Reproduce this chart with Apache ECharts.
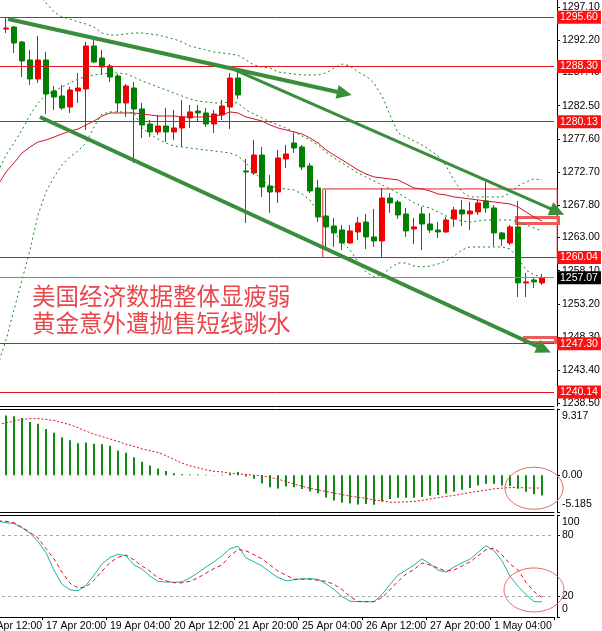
<!DOCTYPE html>
<html><head><meta charset="utf-8">
<script src="https://cdn.jsdelivr.net/npm/echarts@6/dist/echarts.min.js"></script>
<style>html,body{margin:0;padding:0;background:#fff}#c{width:602px;height:631px}</style>
</head><body><div id="c"></div>
<script>
// ---------- categories (H4 bars) ----------
const categories = [
'14 Apr 12:00','14 Apr 16:00','14 Apr 20:00',
'17 Apr 00:00','17 Apr 04:00','17 Apr 08:00','17 Apr 12:00','17 Apr 16:00','17 Apr 20:00',
'18 Apr 00:00','18 Apr 04:00','18 Apr 08:00','18 Apr 12:00','18 Apr 16:00','18 Apr 20:00',
'19 Apr 00:00','19 Apr 04:00','19 Apr 08:00','19 Apr 12:00','19 Apr 16:00','19 Apr 20:00',
'20 Apr 00:00','20 Apr 04:00','20 Apr 08:00','20 Apr 12:00','20 Apr 16:00','20 Apr 20:00',
'21 Apr 00:00','21 Apr 04:00','21 Apr 08:00','21 Apr 12:00','21 Apr 16:00','21 Apr 20:00',
'24 Apr 00:00','24 Apr 04:00','24 Apr 08:00','24 Apr 12:00','24 Apr 16:00','24 Apr 20:00',
'25 Apr 00:00','25 Apr 04:00','25 Apr 08:00','25 Apr 12:00','25 Apr 16:00','25 Apr 20:00',
'26 Apr 00:00','26 Apr 04:00','26 Apr 08:00','26 Apr 12:00','26 Apr 16:00','26 Apr 20:00',
'27 Apr 00:00','27 Apr 04:00','27 Apr 08:00','27 Apr 12:00','27 Apr 16:00','27 Apr 20:00',
'28 Apr 00:00','28 Apr 04:00','28 Apr 08:00','28 Apr 12:00','28 Apr 16:00','28 Apr 20:00',
'1 May 00:00','1 May 04:00','1 May 08:00','1 May 12:00','1 May 16:00','1 May 20:00',
'2 May 00:00','2 May 04:00','2 May 08:00'];

// ---------- candles (first bar = 17 Apr 00:00) ----------
const candleOpen = [1293.85,1294.15,1291.93,1289.27,1286.46,1289.27,1284.68,1283.94,1282.31,1284.68,
1284.98,1291.34,1289.56,1288.38,1286.90,1282.91,1285.12,1282.02,1279.80,1278.62,
1279.50,1278.62,1279.21,1280.69,1281.72,1281.43,1279.80,1281.13,1282.31,1286.60,
1272.85,1272.55,1275.21,1270.63,1269.74,1274.62,1276.99,1276.40,1273.59,1270.33,
1266.19,1264.71,1264.12,1262.20,1263.83,1265.30,1263.09,1262.50,1268.85,1268.26,
1266.49,1264.27,1266.49,1265.01,1264.12,1263.83,1265.75,1267.08,1266.49,1266.78,
1268.41,1267.38,1263.68,1262.20,1264.57,1256.29,1256.73,1256.29];
const candleClose = [1294.00,1291.78,1289.12,1286.46,1289.27,1284.24,1283.79,1282.17,1284.83,1285.12,
1291.34,1288.97,1288.23,1286.75,1282.91,1285.42,1282.02,1279.65,1278.62,1279.50,
1278.62,1279.21,1280.84,1281.58,1281.43,1279.80,1281.28,1282.46,1286.60,1284.09,
1272.70,1275.21,1270.48,1269.74,1274.77,1275.36,1276.25,1273.44,1269.89,1266.05,
1264.57,1263.68,1262.20,1263.98,1265.16,1263.09,1262.50,1268.85,1268.12,1266.34,
1263.98,1264.57,1265.01,1264.12,1263.83,1265.60,1267.08,1266.49,1266.93,1268.12,
1267.38,1263.68,1262.79,1264.57,1256.29,1256.44,1256.44,1257.07];
const candleLow = [1293.26,1290.30,1286.75,1285.57,1285.86,1281.28,1281.87,1281.87,1281.43,1282.91,
1278.91,1288.82,1287.05,1286.01,1281.58,1280.84,1274.03,1277.73,1277.88,1278.17,
1277.14,1277.43,1276.40,1279.21,1280.10,1279.36,1278.47,1280.39,1279.06,1283.50,
1265.16,1272.26,1269.00,1266.64,1268.12,1273.29,1275.51,1273.00,1269.59,1265.30,
1261.46,1261.61,1261.16,1262.05,1262.64,1261.31,1261.61,1260.13,1266.64,1265.75,
1263.09,1262.05,1261.16,1263.68,1262.94,1263.68,1264.57,1264.71,1264.12,1266.34,
1266.64,1261.76,1261.76,1261.90,1254.21,1254.21,1255.54,1255.99];
const candleHigh = [1295.48,1294.30,1292.08,1290.74,1292.82,1290.45,1285.42,1285.57,1285.27,1287.34,
1291.93,1292.37,1290.74,1288.67,1287.20,1285.72,1286.01,1282.91,1280.39,1281.13,
1282.17,1281.87,1283.35,1282.61,1282.61,1282.17,1281.87,1283.35,1287.34,1287.93,
1274.62,1277.43,1276.40,1272.26,1275.95,1276.69,1278.47,1276.69,1274.03,1271.52,
1270.04,1265.90,1264.86,1264.86,1266.05,1266.49,1267.23,1270.33,1269.59,1268.56,
1267.38,1265.90,1267.53,1266.64,1265.30,1266.05,1267.53,1268.56,1268.26,1268.56,
1271.22,1267.82,1263.83,1264.86,1268.41,1257.76,1257.02,1257.61];

// ---------- overlays (first value = 14 Apr 20:00) ----------
const maRed = [1270.78,1272.70,1274.04,1275.51,1276.39,1277.13,1277.43,1277.87,1278.32,1278.76,1279.06,
1279.65,1280.24,1280.98,1281.43,1281.43,1281.43,1281.43,1281.28,1281.13,1280.98,
1280.98,1280.98,1280.84,1280.84,1280.84,1280.84,1280.98,1281.13,1281.58,1281.43,
1280.84,1280.54,1280.24,1279.65,1279.21,1278.91,1278.62,1278.32,1277.73,1276.99,
1275.95,1275.21,1274.48,1273.74,1273.00,1272.41,1271.96,1271.82,1271.67,1271.52,
1270.93,1270.33,1270.19,1269.89,1269.45,1269.30,1269.00,1268.86,1268.71,1268.56,
1268.41,1268.26,1268.12,1267.97,1267.53,1266.79,1266.04,1265.45];
const bandMid = [1272.70,1275.21,1276.99,1278.91,1281.13,1282.91,1284.09,1284.68,1285.27,1285.87,1286.46,
1286.75,1287.05,1287.20,1287.34,1287.34,1287.20,1286.75,1286.16,1285.72,1285.27,
1284.83,1284.39,1283.94,1283.50,1283.20,1283.05,1282.91,1282.91,1283.05,1282.91,
1281.87,1281.28,1280.69,1280.09,1279.65,1279.21,1278.62,1278.02,1277.43,1276.69,
1275.65,1274.77,1274.03,1273.30,1272.56,1271.96,1271.37,1270.78,1270.19,1269.60,
1268.86,1268.12,1267.67,1267.38,1266.79,1266.19,1265.75,1265.45,1265.30,1265.45,
1265.60,1265.60,1265.60,1265.60,1265.30,1264.86,1264.42,1263.97];
const bandUpper = [1306.30,1304.80,1303.32,1301.84,1300.36,1299.03,1297.70,1296.37,1295.63,1295.33,1294.89,
1294.59,1294.15,1293.26,1292.96,1292.96,1293.11,1293.26,1293.26,1293.11,1292.96,
1292.67,1292.37,1291.93,1291.33,1291.04,1290.74,1290.45,1290.30,1290.15,1290.00,
1289.27,1288.53,1288.23,1288.08,1287.49,1287.34,1287.20,1287.05,1287.05,1287.05,
1287.34,1288.08,1288.67,1288.38,1287.49,1286.90,1285.86,1283.94,1281.13,1278.47,
1277.88,1277.29,1276.69,1275.95,1275.07,1273.59,1271.52,1269.74,1269.00,1269.00,
1269.00,1269.00,1269.00,1269.60,1270.63,1271.22,1271.67,1271.52];
const bandLower = [1244.15,1247.85,1252.29,1256.73,1261.16,1266.34,1269.74,1271.96,1273.74,1274.92,1275.81,
1276.99,1279.36,1281.28,1281.58,1281.58,1281.58,1281.43,1279.21,1278.32,1277.58,
1276.99,1276.54,1276.40,1276.25,1276.10,1275.95,1275.81,1275.66,1275.51,1275.07,
1274.03,1272.70,1271.52,1270.63,1270.33,1270.19,1270.04,1269.45,1268.56,1266.64,
1265.30,1263.82,1262.34,1261.16,1259.39,1257.91,1257.17,1257.47,1258.50,1259.24,
1259.24,1258.79,1258.65,1258.79,1259.09,1259.53,1260.27,1261.16,1261.61,1261.61,
1261.61,1261.61,1261.61,1261.31,1259.98,1258.21,1257.47,1257.17];

// ---------- MACD (histogram from 17 Apr 00:00, signal from 14 Apr 20:00) ----------
const macdHist = [8.4,8.3,8.05,7.5,7.25,6.5,5.97,5.34,4.9,4.5,
4.6,4.43,4.34,4.16,3.44,3.17,2.53,1.9,1.36,0.95,
0.6,0.27,0.14,0.1,0.1,0.05,0.02,0.05,0.25,0.45,
-0.2,-0.5,-1.16,-1.7,-1.86,-1.58,-1.7,-1.95,-2.3,-2.56,
-3.16,-3.58,-3.9,-4.0,-4.14,-4.07,-4.16,-3.71,-3.35,-3.17,
-3.17,-3.17,-3.08,-2.9,-2.8,-2.58,-2.35,-2.04,-1.81,-1.45,
-1.22,-1.22,-1.45,-1.54,-1.9,-2.35,-2.67,-2.85];
const macdSignal = [7.15,7.35,7.6,7.85,7.95,7.96,7.85,7.7,7.4,7.1,6.7,
6.2,5.75,5.45,5.1,4.75,4.35,4.05,3.7,3.45,3.2,
2.75,2.2,1.7,1.3,1.04,0.75,0.55,0.45,0.3,0.2,
0.1,0.0,-0.1,-0.3,-0.56,-0.9,-1.26,-1.55,-1.86,-2.05,
-2.3,-2.5,-2.74,-2.95,-3.1,-3.25,-3.5,-3.6,-3.8,-3.8,
-3.75,-3.71,-3.55,-3.35,-3.17,-3.0,-2.85,-2.65,-2.45,-2.28,
-2.1,-1.92,-1.82,-1.75,-1.73,-1.8,-1.81,-1.81];

// ---------- Stochastic (from 14 Apr 20:00) ----------
const stochK = [94,92.5,91.5,87.5,82,74,63,46,32,26.7,25.7,
31,41,52,58.4,61.5,60,51,47,40,35,
34.3,34,34.5,38.4,43.4,49,54,60,67,69.5,
58,54,50,44,38.7,35.5,36.5,37.5,37.5,37,
32.5,27,20,15.5,15,15,15,22,32,41,
46,51,57,52,46,44,49,53,56.7,63.4,
70,65,55,40,30,22,15,15];
const stochD = [94.3,93.8,92.5,88,83,77.5,67,57,44,33,28.5,
29.5,36,45,53.4,58.5,60.7,56,50,45,38.4,
35.5,33.6,33.5,35,38.4,43,47.5,51,60,66,
65,61,57,51,45,41,37,37,37,36,
35,32,27,20,15.3,15,15,19,26.7,35,
42,46.5,53,51,48,45,46,50,54,60,
66,67.5,61,52,46,34,25,19];

// ---------- axis tick labels & levels ----------
const priceTicks = [1297.10,1292.20,1287.40,1282.50,1277.60,1272.70,1267.80,1263.00,1258.10,1253.20,1248.30,1243.40,1238.50];
const macdTicks = [9.317, 0, -5.185];
const macdTickText = ['9.317','0.00','-5.185'];
const stochTicks = [100, 80, 20, 0];
const levelLines = [1295.60, 1288.30, 1280.13, 1260.04, 1247.30, 1240.14];
const lastPrice = 1257.07;
const stochLevels = [80, 20];

// annotations in data space: [catIndexFrom, priceFrom, catIndexTo, priceTo]
const trendArrows = [[3.25,1295.33,44.75,1284.46],[30.75,1288.23,71.4,1267.08],[7.25,1280.84,69.75,1246.73]];
const arrowWidths = [4,3,4];
const rangeBox = [42.6,1270.19,71.9,1260.04];
const targetBoxes = [[66.8,1265.97,72.06,1265.08],[67.8,1248.22,71.7,1247.48]];
const noteLines = ['美国经济数据整体显疲弱','黄金意外遭抛售短线跳水'];

const FIRST_BAR = 3, FIRST_LINE = 2;
function place(values, start){ const out = categories.map(()=>null); values.forEach((v,j)=>{ out[start+j]=v; }); return out; }
const candleData = categories.map((c,k)=>{ const j=k-FIRST_BAR; return (j>=0 && j<candleOpen.length) ? [candleOpen[j],candleClose[j],candleLow[j],candleHigh[j]] : '-'; });

const FONT = 'Liberation Sans';
const PMIN = 1238.08, PMAX = 1298.14;
const GL = -22, GW = 576;
const ARROW = '#3a8d3a';
const lblBase = {color:'#000', fontSize:10.5, fontFamily:FONT, margin:5};
const RED = '#e3141c', GREEN = '#138a13';
const edgeRich = {top:{padding:[15,0,0,0], color:'#000', fontSize:10.5, fontFamily:FONT},
                  bot:{padding:[0,0,15,0], color:'#000', fontSize:10.5, fontFamily:FONT}};

function catAxis(grid, opts){ return Object.assign({type:'category', gridIndex:grid, data:categories, boundaryGap:true,
  axisLine:{show:true, onZero:false, lineStyle:{color:'#000', width:1}}, axisTick:{show:false}, axisLabel:{show:false}, splitLine:{show:false}}, opts||{}); }

const chart = echarts.init(document.getElementById('c'), null, {renderer:'canvas'});
const option = {
  animation:false, backgroundColor:'#fff',
  grid:[
    {left:GL, top:0, width:GW, height:406, outerBoundsMode:'none'},
    {left:GL, top:409, width:GW, height:103, outerBoundsMode:'none'},
    {left:GL, top:515, width:GW, height:102, outerBoundsMode:'none'},
    {left:GL, top:0, width:GW+80, height:406, outerBoundsMode:'none'}
  ],
  xAxis:[
    catAxis(0),
    catAxis(1),
    catAxis(1,{position:'top'}),
    catAxis(2,{axisLabel:{show:true, interval:7, align:'left', color:'#000', fontSize:10.5, fontFamily:FONT, margin:4},
               axisTick:{show:true, interval:7, length:3, lineStyle:{color:'#000'}}}),
    catAxis(2,{position:'top'}),
    {type:'value', gridIndex:3, min:-0.5, max:categories.length-0.5+10, show:false}
  ],
  yAxis:[
    {type:'value', gridIndex:0, min:PMIN, max:PMAX, position:'right', offset:3, scale:true,
     axisLine:{show:true, lineStyle:{color:'#000'}}, axisTick:{show:true, length:3, customValues:priceTicks, lineStyle:{color:'#000'}},
     axisLabel:Object.assign({customValues:priceTicks, formatter:v=>v.toFixed(2)}, lblBase), splitLine:{show:false}},
    {type:'value', gridIndex:1, min:-5.185, max:9.317, position:'right', offset:3,
     axisLine:{show:true, lineStyle:{color:'#000'}}, axisTick:{show:true, length:3, customValues:macdTicks, lineStyle:{color:'#000'}},
     axisLabel:Object.assign({customValues:macdTicks, rich:edgeRich,
       formatter:v=>{ const i=macdTicks.findIndex(t=>Math.abs(t-v)<1e-6); if(i<0) return '';
         if(i===0) return '{top|'+macdTickText[i]+'}'; if(i===macdTicks.length-1) return '{bot|'+macdTickText[i]+'}'; return macdTickText[i]; }}, lblBase), splitLine:{show:false}},
    {type:'value', gridIndex:2, min:0, max:100, position:'right', offset:3,
     axisLine:{show:true, lineStyle:{color:'#000'}}, axisTick:{show:true, length:3, customValues:stochTicks, lineStyle:{color:'#000'}},
     axisLabel:Object.assign({customValues:stochTicks, rich:edgeRich,
       formatter:v=>{ if(v===100) return '{top|100}'; if(v===0) return '{bot|0}'; return String(v); }}, lblBase), splitLine:{show:false}},
    {type:'value', gridIndex:3, min:PMIN, max:PMAX, show:false}
  ],
  series:[
    {type:'line', name:'ma', xAxisIndex:0, yAxisIndex:0, data:place(maRed,FIRST_LINE), showSymbol:false, silent:true,
     lineStyle:{color:'#d0142c', width:1}},
    {type:'line', name:'bbUp', xAxisIndex:0, yAxisIndex:0, data:place(bandUpper,FIRST_LINE), showSymbol:false, silent:true,
     lineStyle:{color:GREEN, width:1, type:[2,3]}},
    {type:'line', name:'bbMid', xAxisIndex:0, yAxisIndex:0, data:place(bandMid,FIRST_LINE), showSymbol:false, silent:true,
     lineStyle:{color:GREEN, width:1, type:[2,3]}},
    {type:'line', name:'bbLow', xAxisIndex:0, yAxisIndex:0, data:place(bandLower,FIRST_LINE), showSymbol:false, silent:true,
     lineStyle:{color:GREEN, width:1, type:[2,3]}},
    {type:'candlestick', xAxisIndex:0, yAxisIndex:0, data:candleData, barWidth:5, silent:true,
     itemStyle:{color:'#f00000', color0:'#008000', borderColor:'#f00000', borderColor0:'#008000', borderWidth:1},
     markLine:{silent:true, symbol:['none','none'], animation:false,
       data: levelLines.map(v=>({yAxis:v, lineStyle:{color:RED, width:1, type:'solid'},
           label:{show:true, position:'end', distance:3, formatter:p=>p.value.toFixed(2), color:'#fff', backgroundColor:'#ff1010',
                  padding:[1,3,0,3], fontSize:10.5, fontFamily:FONT, lineHeight:12}}))
         .concat([{yAxis:lastPrice, lineStyle:{color:'#8a8a8a', width:1, type:'solid'},
           label:{show:true, position:'end', distance:3, formatter:p=>p.value.toFixed(2), color:'#fff', backgroundColor:'#000',
                  padding:[1,3,0,3], fontSize:10.5, fontFamily:FONT, lineHeight:12}}])}},
    {type:'line', name:'annot', xAxisIndex:5, yAxisIndex:3, data:[], clip:false, silent:true,
     markArea:{silent:true, data:[
       [{coord:[rangeBox[0],rangeBox[1]], itemStyle:{color:'rgba(0,0,0,0)', borderColor:'#e0202a', borderWidth:1}},{coord:[rangeBox[2],rangeBox[3]]}]
     ].concat(targetBoxes.map(b=>[{coord:[b[0],b[1]], itemStyle:{color:'rgba(0,0,0,0)', borderColor:'#ef5a5a', borderWidth:3}},{coord:[b[2],b[3]]}]))},
     markLine:{silent:true, symbol:['none','none'], animation:false,
       lineStyle:{color:ARROW, width:4, type:'solid'}, label:{show:false},
       data: trendArrows.map((a,i)=>[{coord:[a[0],a[1]], lineStyle:{color:ARROW, width:arrowWidths[i], type:'solid'}},{coord:[a[2],a[3]]}])}},
    {type:'bar', name:'macd', xAxisIndex:1, yAxisIndex:1, data:place(macdHist,FIRST_BAR), barWidth:2, silent:true,
     itemStyle:{color:'#138a13'}},
    {type:'line', name:'signal', xAxisIndex:1, yAxisIndex:1, data:place(macdSignal,FIRST_LINE), showSymbol:false, silent:true,
     lineStyle:{color:'#e01020', width:1, type:[2,2]}},
    {type:'line', name:'K', xAxisIndex:3, yAxisIndex:2, data:place(stochK,FIRST_LINE), showSymbol:false, silent:true,
     lineStyle:{color:'#20b2aa', width:1},
     markLine:{silent:true, symbol:['none','none'], label:{show:false}, lineStyle:{color:'#a8a8a8', width:1, type:[3,3]},
       data: stochLevels.map(v=>({yAxis:v}))}},
    {type:'line', name:'D', xAxisIndex:3, yAxisIndex:2, data:place(stochD,FIRST_LINE), showSymbol:false, silent:true,
     lineStyle:{color:'#e01020', width:1, type:[4,3]}}
  ]
};
chart.setOption(option);

// arrowheads at the end of each trend arrow (positioned from data coordinates)
const heads = trendArrows.map(a=>{
  const p0 = chart.convertToPixel({xAxisIndex:5, yAxisIndex:3}, [a[0],a[1]]);
  const p1 = chart.convertToPixel({xAxisIndex:5, yAxisIndex:3}, [a[2],a[3]]);
  const dx=p1[0]-p0[0], dy=p1[1]-p0[1], L=Math.hypot(dx,dy), ux=dx/L, uy=dy/L, nx=-uy, ny=ux;
  const bx=p1[0]-ux*3, by=p1[1]-uy*3, tx=p1[0]+ux*12, ty=p1[1]+uy*12;
  return {type:'polygon', z:100, shape:{points:[[tx,ty],[bx+nx*7,by+ny*7],[bx-nx*7,by-ny*7]]}, style:{fill:ARROW}};
});
const m = chart.convertToPixel({xAxisIndex:1, yAxisIndex:1}, [69, -1.84]);
const s = chart.convertToPixel({xAxisIndex:3, yAxisIndex:2}, [69, 26.5]);
chart.setOption({graphic:[
  {type:'text', x:32, y:296, z:100, style:{text:noteLines[0], font:'23.5px "Noto Sans CJK SC"', fill:'#e8474c', verticalAlign:'middle'}},
  {type:'text', x:32, y:323, z:100, style:{text:noteLines[1], font:'23.5px "Noto Sans CJK SC"', fill:'#e8474c', verticalAlign:'middle'}},
  {type:'ellipse', z:100, shape:{cx:m[0], cy:m[1], rx:29, ry:21}, style:{fill:'none', stroke:'#e06a6a', lineWidth:1}},
  {type:'ellipse', z:100, shape:{cx:s[0], cy:s[1], rx:30, ry:22}, style:{fill:'none', stroke:'#e06a6a', lineWidth:1}}
].concat(heads)});
</script></body></html>
